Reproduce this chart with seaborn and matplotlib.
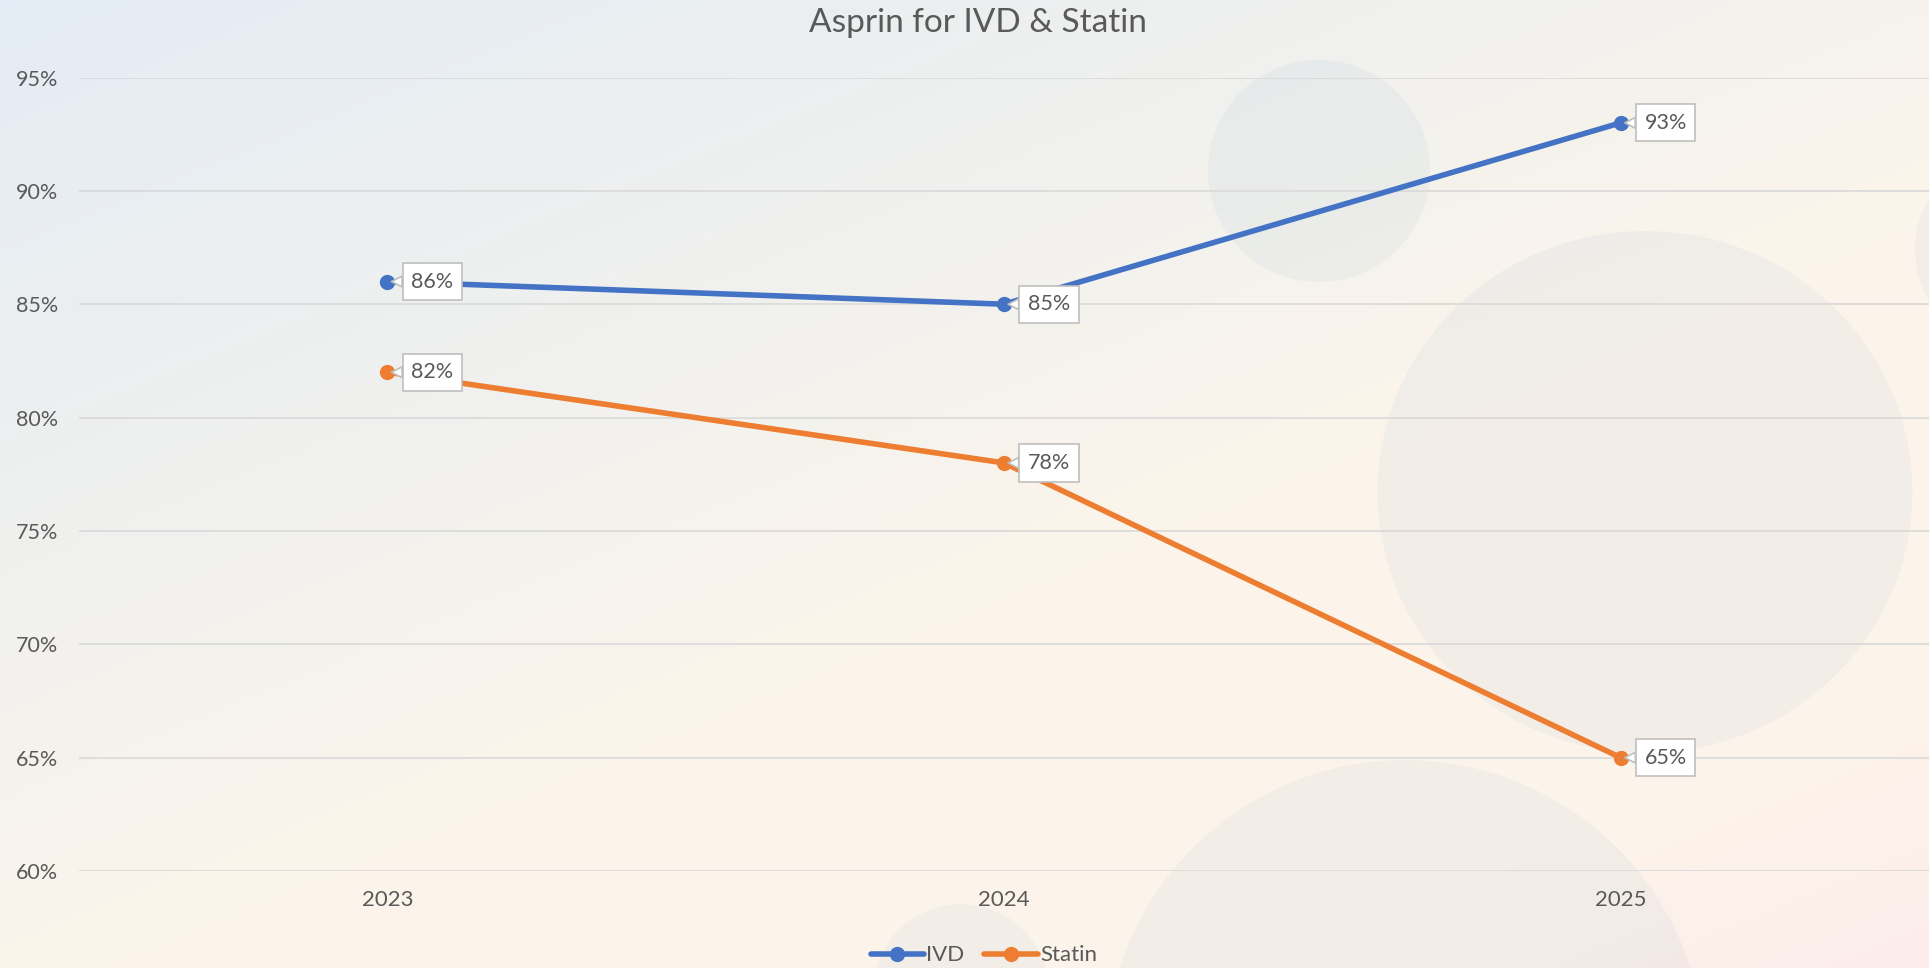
import numpy as np
import pandas as pd
import matplotlib
matplotlib.use("Agg")
import matplotlib.pyplot as plt
from matplotlib.colors import LinearSegmentedColormap
from matplotlib.patches import Circle, Ellipse
from matplotlib.ticker import PercentFormatter
import seaborn as sns

# data
years = ["2023", "2024", "2025"]
ivd = [0.86, 0.85, 0.93]
statin = [0.82, 0.78, 0.65]
y_ticks = [0.60, 0.65, 0.70, 0.75, 0.80, 0.85, 0.90, 0.95]

df = pd.DataFrame({
    "year": years * 2,
    "value": ivd + statin,
    "series": ["IVD"] * len(years) + ["Statin"] * len(years),
})

sns.set_style("white")
plt.rcParams["font.family"] = ["Lato", "DejaVu Sans"]
grey_text = "#595959"

W, H = 1929, 968
fig = plt.figure(figsize=(W / 100, H / 100), dpi=100)

# background: soft diagonal gradient with faint circles
bg = fig.add_axes([0, 0, 1, 1], zorder=-5)
xx, yy = np.meshgrid(np.linspace(0, 1, 400), np.linspace(0, 1, 200))
t = 0.45 * xx + 0.55 * yy
cmap = LinearSegmentedColormap.from_list(
    "bg", [(0, "#E4ECF5"), (0.35, "#F1F1EE"), (0.58, "#FCF5EB"),
           (0.85, "#FDF4EA"), (1, "#FCEDEA")])
bg.imshow(t, cmap=cmap, extent=[0, W, H, 0], aspect="auto", vmin=0, vmax=1)
circ_kw = dict(fc="#8FB0CE", alpha=0.09, ec="none")
bg.add_patch(Circle((1319, 171), 111, **circ_kw))
bg.add_patch(Ellipse((1645, 492), 535, 522, **circ_kw))
bg.add_patch(Circle((1405, 1060), 300, **circ_kw))
bg.add_patch(Circle((961, 992), 88, **circ_kw))
bg.add_patch(Circle((2015, 250), 100, **circ_kw))
bg.set_xlim(0, W)
bg.set_ylim(H, 0)
bg.axis("off")

ax = fig.add_axes([79 / W, 97 / H, 1 - 79 / W, (871 - 77.5) / H])
ax.set_facecolor("none")

palette = {"IVD": "#4472C4", "Statin": "#ED7D31"}
sns.lineplot(data=df, x="year", y="value", hue="series", palette=palette,
             marker="o", markersize=11, markeredgewidth=0, linewidth=4,
             sort=False, ax=ax, zorder=3)

# data labels with callout boxes
for name, vals in [("IVD", ivd), ("Statin", statin)]:
    for i, v in enumerate(vals):
        ax.annotate(f"{v:.0%}", xy=(i, v), xytext=(45, 0), textcoords="offset pixels",
                    ha="center", va="center", fontsize=15.5, color=grey_text, zorder=5,
                    bbox=dict(boxstyle="square,pad=0.4", fc="white", ec="#BFBFBF", lw=1.2),
                    arrowprops=dict(arrowstyle="wedge,tail_width=0.5,shrink_factor=0.5",
                                    fc="white", ec="#BFBFBF", lw=1.2,
                                    shrinkA=0, shrinkB=3))

ax.set_xlim(-0.5, 2.5)
ax.set_ylim(0.60, 0.95)
ax.set_yticks(y_ticks)
ax.yaxis.set_major_formatter(PercentFormatter(1.0, decimals=0))
ax.grid(axis="y", color="#D9D9D9", linewidth=1.2)
ax.grid(axis="x", visible=False)
ax.set_axisbelow(True)
sns.despine(ax=ax, left=True, bottom=True)
ax.tick_params(axis="y", length=0, labelsize=15.5, colors=grey_text, pad=15)
ax.tick_params(axis="x", length=0, labelsize=16, colors=grey_text, pad=14)
ax.set_xlabel("")
ax.set_ylabel("")

handles, labels = ax.get_legend_handles_labels()
ax.get_legend().remove()
fig.legend(handles, labels, loc="lower center", bbox_to_anchor=(0.51, -0.018),
           ncol=2, frameon=False, fontsize=16, labelcolor=grey_text,
           handlelength=2.4, handletextpad=0.1, columnspacing=0.9)

fig.suptitle("Asprin for IVD & Statin", x=0.507, y=0.992, va="top",
             fontsize=24, color=grey_text)

fig.savefig("out.png", dpi=100)
